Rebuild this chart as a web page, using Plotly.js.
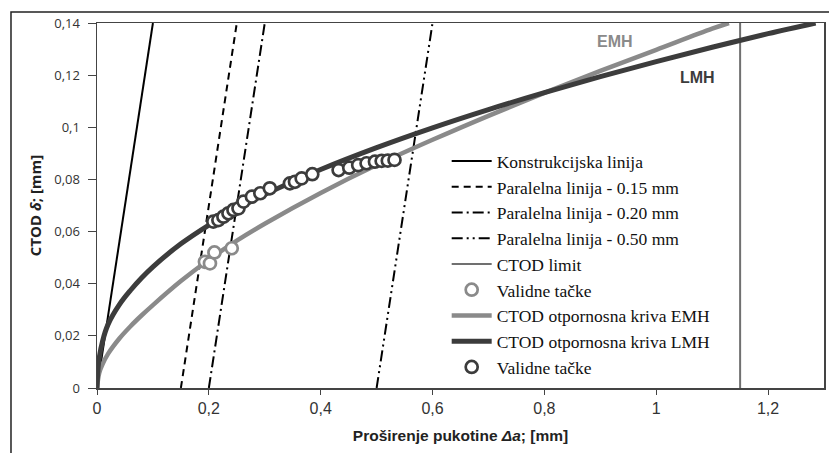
<!DOCTYPE html>
<html>
<head>
<meta charset="utf-8">
<script src="https://cdn.plot.ly/plotly-3.0.1.min.js"></script>
<style>html,body{margin:0;padding:0;background:#fff;}#chart{width:829px;height:453px;}</style>
</head>
<body>
<div id="chart"></div>
<script>
// Construction line and parallel lines (end points)
const constrX = [0, 0.1];
const constrY = [0, 0.14];
const par015X = [0.15, 0.25];
const par015Y = [0, 0.14];
const par020X = [0.2, 0.3];
const par020Y = [0, 0.14];
const par050X = [0.5, 0.6];
const par050Y = [0, 0.14];
const limitX = [1.15, 1.15];
const limitY = [0, 0.14];

// CTOD resistance curve EMH
const emhX = [0, 0.004, 0.01, 0.02, 0.04, 0.06, 0.08, 0.1, 0.15, 0.2, 0.25, 0.3, 0.4, 0.5, 0.6, 0.7, 0.8, 0.9, 1.0, 1.1, 1.13];
const emhY = [0, 0.0058, 0.0092, 0.0132, 0.019, 0.0237, 0.0279, 0.0318, 0.041, 0.0492, 0.0565, 0.063, 0.0748, 0.0855, 0.0952, 0.1044, 0.1132, 0.1216, 0.1297, 0.1378, 0.14];
// Valid points EMH
const emhPtX = [0.193, 0.202, 0.21, 0.241];
const emhPtY = [0.0484, 0.0478, 0.052, 0.0536];

// CTOD resistance curve LMH
const lmhX = [0, 0.003, 0.01, 0.02, 0.04, 0.06, 0.08, 0.1, 0.15, 0.2, 0.25, 0.3, 0.4, 0.5, 0.6, 0.7, 0.8, 0.9, 1.0, 1.1, 1.2, 1.285];
const lmhY = [0, 0.010, 0.018, 0.0245, 0.032, 0.0375, 0.0423, 0.0465, 0.0553, 0.0625, 0.0687, 0.0742, 0.0838, 0.0922, 0.0998, 0.1068, 0.1133, 0.1194, 0.1252, 0.1307, 0.1359, 0.14];
// Valid points LMH
const lmhPtX = [0.208, 0.217, 0.226, 0.235, 0.244, 0.253, 0.262, 0.277, 0.292, 0.309, 0.345, 0.354, 0.366, 0.385, 0.432, 0.451, 0.467, 0.482, 0.497, 0.509, 0.52, 0.532];
const lmhPtY = [0.0638, 0.0644, 0.0657, 0.067, 0.0683, 0.0689, 0.0715, 0.0734, 0.0747, 0.0766, 0.0785, 0.0791, 0.0804, 0.082, 0.0836, 0.0845, 0.0855, 0.0862, 0.0868, 0.0871, 0.0872, 0.0875];

const xTicks = [0, 0.2, 0.4, 0.6, 0.8, 1, 1.2];
const yTicks = [0, 0.02, 0.04, 0.06, 0.08, 0.1, 0.12, 0.14];

const GRAY = '#8a8a8a';
const DARK = '#3c3c3c';

const traces = [
  {x: constrX, y: constrY, mode: 'lines', name: 'Konstrukcijska linija', legendrank: 1,
   line: {color: '#000', width: 2}},
  {x: par015X, y: par015Y, mode: 'lines', name: 'Paralelna linija - 0.15 mm', legendrank: 2,
   line: {color: '#000', width: 2, dash: '7px,5px'}},
  {x: par020X, y: par020Y, mode: 'lines', name: 'Paralelna linija - 0.20 mm', legendrank: 3,
   line: {color: '#000', width: 2, dash: '11px,4px,2px,4px'}},
  {x: par050X, y: par050Y, mode: 'lines', name: 'Paralelna linija - 0.50 mm', legendrank: 4,
   line: {color: '#000', width: 2, dash: '11px,4px,2px,4px,2px,4px'}},
  {x: limitX, y: limitY, mode: 'lines', name: 'CTOD limit', legendrank: 5,
   line: {color: '#707070', width: 2}},
  {x: emhX, y: emhY, mode: 'lines', name: 'CTOD otpornosna kriva EMH', legendrank: 7,
   line: {color: GRAY, width: 4.5, shape: 'spline', smoothing: 1}},
  {x: lmhX, y: lmhY, mode: 'lines', name: 'CTOD otpornosna kriva LMH', legendrank: 8,
   line: {color: DARK, width: 5, shape: 'spline', smoothing: 1}},
  {x: emhPtX, y: emhPtY, mode: 'markers', name: 'Validne tačke', legendrank: 6,
   marker: {symbol: 'circle', size: 12, color: '#fff', line: {color: GRAY, width: 2.7}}},
  {x: lmhPtX, y: lmhPtY, mode: 'markers', name: 'Validne tačke', legendrank: 9,
   marker: {symbol: 'circle', size: 12, color: '#fff', line: {color: DARK, width: 2.7}}}
];

const layout = {
  width: 829, height: 453,
  margin: {l: 97, r: 5, t: 23, b: 65},
  paper_bgcolor: '#fff', plot_bgcolor: '#fff',
  separators: ', ',
  showlegend: true,
  legend: {
    x: 0.481, xanchor: 'left', y: 0.671, yanchor: 'top',
    bgcolor: '#fff', borderwidth: 0, itemwidth: 40,
    font: {family: 'Liberation Serif, Times New Roman, serif', size: 17.5, color: '#111'},
    traceorder: 'normal'
  },
  xaxis: {
    range: [0, 1.3], tickvals: xTicks, ticks: 'outside', ticklen: 5, tickcolor: '#444',
    showline: true, linecolor: '#444', linewidth: 1.5, mirror: true, showgrid: false, zeroline: false,
    tickfont: {family: 'Liberation Sans Narrow, Liberation Sans, Arial, sans-serif', size: 16, color: '#333'},
    title: {text: '<b>Proširenje pukotine <i>Δa</i>; [mm]</b>', standoff: 14,
            font: {family: 'Liberation Sans, Arial, sans-serif', size: 15.5, color: '#222'}}
  },
  yaxis: {
    range: [0, 0.14], tickvals: yTicks, ticks: 'outside', ticklen: 8, tickcolor: '#444',
    ticklabelstandoff: 5,
    showline: true, linecolor: '#444', linewidth: 1.5, mirror: true, showgrid: false, zeroline: false,
    tickfont: {family: 'Open Sans, Noto Sans, sans-serif', size: 13, color: '#333'},
    title: {text: '<b>CTOD <i>δ</i>; [mm]</b>', standoff: 9,
            font: {family: 'Open Sans, Liberation Sans, sans-serif', size: 15, color: '#222'}}
  },
  annotations: [
    {x: 0.927, y: 0.1328, xref: 'x', yref: 'y', text: '<b>EMH</b>', showarrow: false,
     font: {family: 'Liberation Sans, Arial, sans-serif', size: 16, color: GRAY}},
    {x: 1.073, y: 0.119, xref: 'x', yref: 'y', text: '<b>LMH</b>', showarrow: false,
     font: {family: 'Liberation Sans, Arial, sans-serif', size: 16, color: DARK}}
  ],
  shapes: [
    {type: 'rect', xref: 'paper', yref: 'paper', x0: -0.1183, x1: 1.5, y0: -0.5, y1: 1.030,
     line: {color: '#222', width: 1.5}, fillcolor: 'rgba(0,0,0,0)', layer: 'below'}
  ]
};

Plotly.newPlot('chart', traces, layout, {displayModeBar: false, staticPlot: true});
</script>
</body>
</html>
